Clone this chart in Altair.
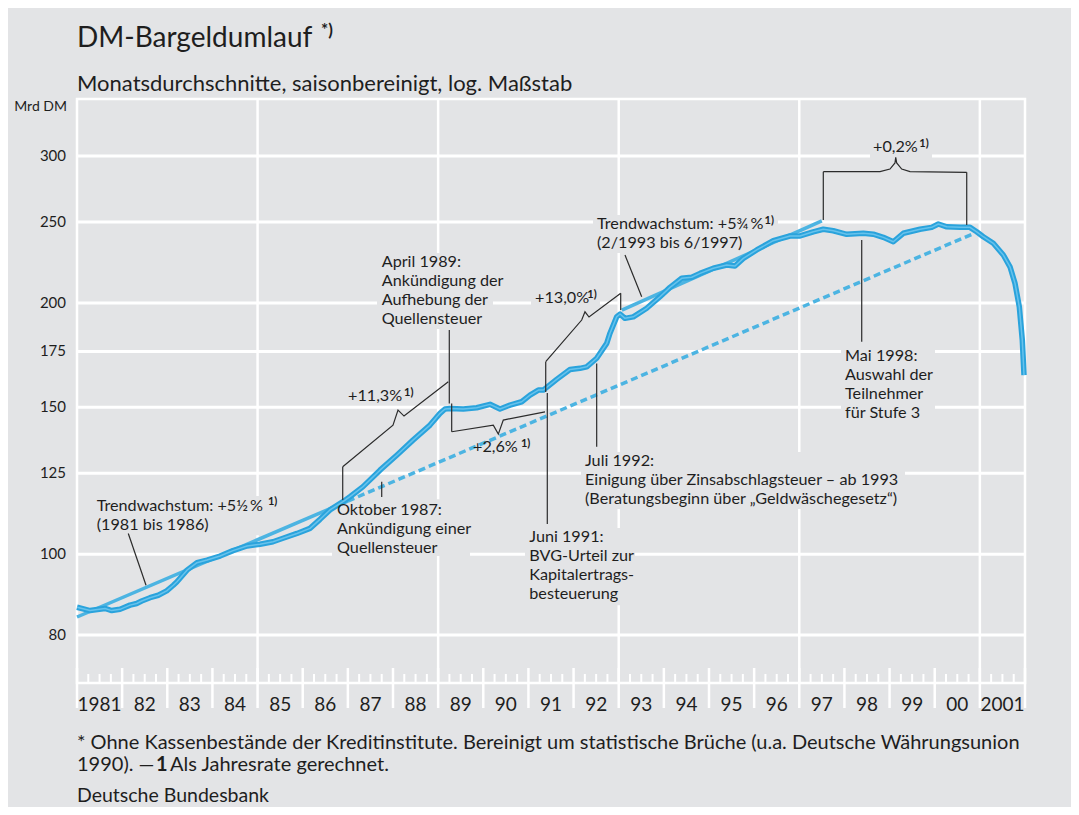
import altair as alt
import pandas as pd

# ---------------- data ----------------
# DM-Bargeldumlauf, Mrd DM, Monatsdurchschnitte, saisonbereinigt
years = [
    1981.000, 1981.288, 1981.620, 1981.769, 1981.953, 1982.174, 1982.322, 1982.433, 1982.617, 1982.801,
    1982.987, 1983.133, 1983.215, 1983.437, 1983.658, 1983.880, 1984.168, 1984.456, 1984.766, 1985.054,
    1985.342, 1985.563, 1985.873, 1986.161, 1986.383, 1986.604, 1986.892, 1987.047, 1987.336, 1987.712,
    1988.089, 1988.443, 1988.820, 1989.041, 1989.152, 1989.263, 1989.557, 1989.854, 1990.149, 1990.370,
    1990.592, 1990.851, 1991.035, 1991.219, 1991.330, 1991.626, 1991.921, 1992.142, 1992.291, 1992.512,
    1992.734, 1992.807, 1992.955, 1993.029, 1993.139, 1993.323, 1993.620, 1993.915, 1994.136, 1994.395,
    1994.617, 1994.801, 1995.095, 1995.392, 1995.576, 1995.760, 1996.057, 1996.424, 1996.794, 1997.016,
    1997.310, 1997.532, 1997.753, 1998.050, 1998.418, 1998.640, 1998.861, 1999.083, 1999.304, 1999.674,
    1999.933, 2000.080, 2000.266, 2000.560, 2000.782, 2000.930, 2001.076, 2001.298, 2001.520, 2001.668,
    2001.779, 2001.874, 2001.940, 2001.978,
]
values = [
    86.4, 85.6, 86.1, 85.6, 85.9, 86.9, 87.3, 87.9, 88.7, 89.3,
    90.4, 91.8, 92.7, 95.7, 97.7, 98.4, 99.5, 101.0, 102.3, 102.8,
    103.5, 104.5, 105.9, 107.4, 110.1, 113.0, 115.6, 117.2, 120.5, 126.1,
    131.5, 137.0, 142.8, 147.5, 149.3, 149.5, 149.3, 149.8, 151.2, 149.3,
    150.9, 152.3, 155.1, 157.3, 157.3, 162.0, 166.5, 167.0, 167.7, 171.7,
    178.9, 184.0, 192.5, 194.0, 191.7, 192.5, 197.1, 203.5, 208.8, 214.1,
    214.7, 217.0, 220.1, 222.1, 221.5, 226.2, 231.5, 237.5, 240.6, 240.6,
    243.4, 245.1, 244.1, 241.7, 242.4, 241.8, 239.7, 236.8, 242.4, 245.1,
    246.4, 248.7, 246.8, 246.4, 246.4, 243.4, 240.1, 235.8, 228.3, 221.0,
    211.1, 197.9, 180.6, 163.9,
]

# trend lines (end points)
trend1_solid_years = [1981.0, 1987.0]
trend1_solid_values = [84.1, 115.8]
trend1_dashed_years = [1987.0, 2000.83]
trend1_dashed_values = [115.8, 241.8]
trend2_years = [1993.07, 1997.50]
trend2_values = [196.1, 250.9]

# axes
y_ticks = [80, 100, 125, 150, 175, 200, 250, 300]
grid_years = [1985, 1989, 1993, 1997, 2001]
tick_years = list(range(1981, 2003))
quarter_ticks = [y + q for y in range(1981, 2002) for q in (0.25, 0.5, 0.75)]
x_label_text = ["1981", "82", "83", "84", "85", "86", "87", "88", "89", "90", "91",
                "92", "93", "94", "95", "96", "97", "98", "99", "00", "2001"]
x_label_pos = [y + 0.5 for y in range(1981, 2002)]

# annotations (data coordinates: year, Mrd DM)
ann_text = [
    "Trendwachstum: +5½\u2009%\n(1981 bis 1986)",
    "Oktober 1987:\nAnkündigung einer\nQuellensteuer",
    "April 1989:\nAnkündigung der\nAufhebung der\nQuellensteuer",
    "Juni 1991:\nBVG-Urteil zur\nKapitalertrags-\nbesteuerung",
    "Juli 1992:\nEinigung über Zinsabschlagsteuer – ab 1993\n(Beratungsbeginn über „Geldwäschegesetz“)",
    "Trendwachstum: +5¾\u2009%\n(2/1993 bis 6/1997)",
    "Mai 1998:\nAuswahl der\nTeilnehmer\nfür Stufe 3",
    "+11,3%", "+2,6%", "+13,0%", "+0,2%",
]
ann_year = [1981.436, 1986.760, 1987.750, 1991.019, 1992.253, 1992.519, 1998.013,
            1987.003, 1989.772, 1991.146, 1998.633]
ann_value = [112.8, 111.4, 220.7, 103.3, 127.6, 245.1, 170.5,
             152.6, 132.7, 199.8, 303.1]

sup_year = [1985.230, 1996.230, 1988.244, 1990.835, 1992.304, 1999.659]
sup_value = [114.4, 248.5, 154.7, 134.5, 202.6, 307.3]

# text background boxes
box_x0 = [1981.332, 1986.649, 1987.646, 1990.924, 1992.165, 1997.924, 1992.430, 1998.566, 1991.057, 1989.706]
box_x1 = [1985.563, 1989.706, 1990.215, 1993.361, 1999.342, 2000.006, 1996.528, 1999.940, 1992.586, 1991.079]
box_v0 = [117.4, 116.4, 229.5, 107.5, 132.6, 177.1, 254.9, 316.2, 207.8, 138.2]
box_v1 = [105.4, 99.5, 186.1, 86.9, 113.3, 144.0, 229.5, 297.5, 197.8, 131.1]

# leader lines and braces: (id, [(year, value), ...])
leaders = [
    ("trend1", [(1982.136, 105.9), (1982.529, 91.8)]),
    ("trend2", [(1993.139, 228.3), (1993.509, 203.5)]),
    ("okt87", [(1987.750, 122.1), (1987.750, 117.1)]),
    ("apr89", [(1989.247, 185.6), (1989.247, 151.6)]),
    ("b26v", [(1989.300, 151.6), (1989.300, 140.2)]),
    ("b26", [(1989.300, 140.2), (1990.222, 142.8), (1990.333, 139.3), (1990.443, 144.8), (1991.367, 148.1)]),
    ("b113v", [(1986.886, 127.3), (1986.886, 116.1)]),
    ("b113", [(1986.886, 127.3), (1988.000, 142.8), (1988.111, 148.8), (1988.244, 146.4), (1989.225, 160.9)]),
    ("b130v", [(1991.383, 170.1), (1991.383, 156.5)]),
    ("b130", [(1991.383, 170.1), (1992.180, 190.8), (1992.253, 195.2), (1992.342, 192.4), (1993.044, 205.4)]),
    ("b130r", [(1993.044, 205.4), (1993.044, 196.1)]),
    ("b02v", [(1997.532, 287.3), (1997.532, 251.4)]),
    ("b02", [(1997.532, 287.3), (1998.788, 287.3), (1999.009, 289.4), (1999.120, 294.3), (1999.136, 298.9),
             (1999.158, 294.3), (1999.269, 289.4), (1999.453, 287.3), (2000.709, 286.8)]),
    ("b02r", [(2000.709, 286.8), (2000.709, 248.0)]),
    ("jun91", [(1991.418, 156.0), (1991.418, 108.7)]),
    ("jul92", [(1992.512, 169.3), (1992.512, 134.5)]),
    ("mai98", [(1998.383, 237.9), (1998.383, 179.7)]),
]

# ---------------- styling ----------------
BG = "#e3e4e6"
TXT = "#1e1e1e"
FONT = "Lato"
LINE = "#2aa3dc"
LINE_IN = "#72c8ee"
TREND = "#4cb4e2"
W, H = 948, 584

xs = alt.Scale(domain=[1981, 2002], nice=False, zero=False)
ys = alt.Scale(type="log", domain=[70.1, 351.1], nice=False)


def XQ(f):
    return alt.X(f, scale=xs, axis=None)


def YQ(f):
    return alt.Y(f, scale=ys, axis=None)


# grid and axis labels
hgrid = alt.Chart(pd.DataFrame({"value": y_ticks})).mark_rule(color="white", strokeWidth=3).encode(
    y=YQ("value:Q"), x=alt.value(0), x2=alt.value(W))
vgrid = alt.Chart(pd.DataFrame({"year": grid_years})).mark_rule(color="white", strokeWidth=2.5).encode(
    x=XQ("year:Q"), y=alt.value(0), y2=alt.value(H))
ylabels = alt.Chart(pd.DataFrame({"value": y_ticks, "t": [str(v) for v in y_ticks]})).mark_text(
    align="right", baseline="middle", font=FONT, fontSize=15, color=TXT).encode(
    x=alt.value(-11), y=YQ("value:Q"), text="t:N")

df_line = pd.DataFrame({"year": years, "value": values})
outer = alt.Chart(df_line).mark_line(color=LINE, strokeWidth=5.5, strokeJoin="round").encode(
    x=XQ("year:Q"), y=YQ("value:Q"))
inner = alt.Chart(df_line).mark_line(color=LINE_IN, strokeWidth=1.5, strokeJoin="round", opacity=0.85).encode(
    x=XQ("year:Q"), y=YQ("value:Q"))

boxes = alt.Chart(pd.DataFrame({"x0": box_x0, "x1": box_x1, "v0": box_v0, "v1": box_v1})).mark_rect(
    color=BG).encode(x=XQ("x0:Q"), x2="x1:Q", y=YQ("v0:Q"), y2="v1:Q")

df_tr_solid = pd.DataFrame({
    "seg": ["a"] * 2 + ["b"] * 2,
    "year": trend1_solid_years + trend2_years,
    "value": trend1_solid_values + trend2_values,
})
tr_solid = alt.Chart(df_tr_solid).mark_line(color=TREND, strokeWidth=3.5).encode(
    x=XQ("year:Q"), y=YQ("value:Q"), detail="seg:N")
tr_dash = alt.Chart(pd.DataFrame({"year": trend1_dashed_years, "value": trend1_dashed_values})).mark_line(
    color=TREND, strokeWidth=3.5, strokeDash=[7, 4]).encode(x=XQ("year:Q"), y=YQ("value:Q"))

rows = []
for lid, pts in leaders:
    for i, (yy, vv) in enumerate(pts):
        rows.append({"id": lid, "seq": i, "year": yy, "value": vv})
lead = alt.Chart(pd.DataFrame(rows)).mark_line(color="#2b2b2b", strokeWidth=1.2).encode(
    x=XQ("year:Q"), y=YQ("value:Q"), detail="id:N", order="seq:Q")

ann = alt.Chart(pd.DataFrame({"year": ann_year, "value": ann_value, "t": ann_text})).mark_text(
    align="left", baseline="alphabetic", font=FONT, fontSize=16.2, lineHeight=19, lineBreak="\n",
    color=TXT).encode(x=XQ("year:Q"), y=YQ("value:Q"), text="t:N")
sup = alt.Chart(pd.DataFrame({"year": sup_year, "value": sup_value, "t": ["1)"] * len(sup_year)})).mark_text(
    align="left", baseline="alphabetic", font=FONT, fontSize=11, fontWeight="bold",
    color=TXT).encode(x=XQ("year:Q"), y=YQ("value:Q"), text="t:N")

ticks_year = alt.Chart(pd.DataFrame({"year": tick_years})).mark_rule(color="white", strokeWidth=2.5).encode(
    x=XQ("year:Q"), y=alt.value(H - 15), y2=alt.value(H + 25))
ticks_q = alt.Chart(pd.DataFrame({"year": quarter_ticks})).mark_rule(color="white", strokeWidth=2).encode(
    x=XQ("year:Q"), y=alt.value(H - 9), y2=alt.value(H))
xlabels = alt.Chart(pd.DataFrame({"year": x_label_pos, "t": x_label_text})).mark_text(
    font=FONT, fontSize=19, color=TXT, baseline="alphabetic", align="center").encode(
    x=XQ("year:Q"), y=alt.value(H + 28), text="t:N")


def txt(s, x, y, size, weight="normal", align="left"):
    return alt.Chart(pd.DataFrame({"t": [s]})).mark_text(
        font=FONT, fontSize=size, fontWeight=weight, align=align, baseline="alphabetic", color=TXT
    ).encode(x=alt.value(x), y=alt.value(y), text="t:N")


page = [
    txt("DM-Bargeldumlauf", 0, -52, 28),
    txt("*)", 244, -63, 17, "bold"),
    txt("Monatsdurchschnitte, saisonbereinigt, log. Maßstab", 0, -8, 22),
    txt("Mrd DM", -10, 12, 14, align="right"),
    txt("* Ohne Kassenbestände der Kreditinstitute. Bereinigt um statistische Brüche (u.a. Deutsche Währungsunion",
        0, 650, 20),
    txt("1990). —", 0, 672, 20),
    txt("1", 79, 672, 20, "bold"),
    txt("Als Jahresrate gerechnet.", 93, 672, 20),
    txt("Deutsche Bundesbank", 0, 703, 19.5),
]

chart = alt.layer(
    hgrid, vgrid, boxes, tr_solid, tr_dash, outer, inner, lead, ann, sup,
    ticks_year, ticks_q, xlabels, ylabels, *page
).properties(
    width=W, height=H, background=BG,
    autosize=alt.AutoSizeParams(type="none"),
    padding={"left": 69, "top": 91, "right": 46, "bottom": 124},
).configure_view(stroke="white", strokeWidth=2.5, fill=BG)

chart.save("out.html", embed_options={"renderer": "svg", "actions": False})
